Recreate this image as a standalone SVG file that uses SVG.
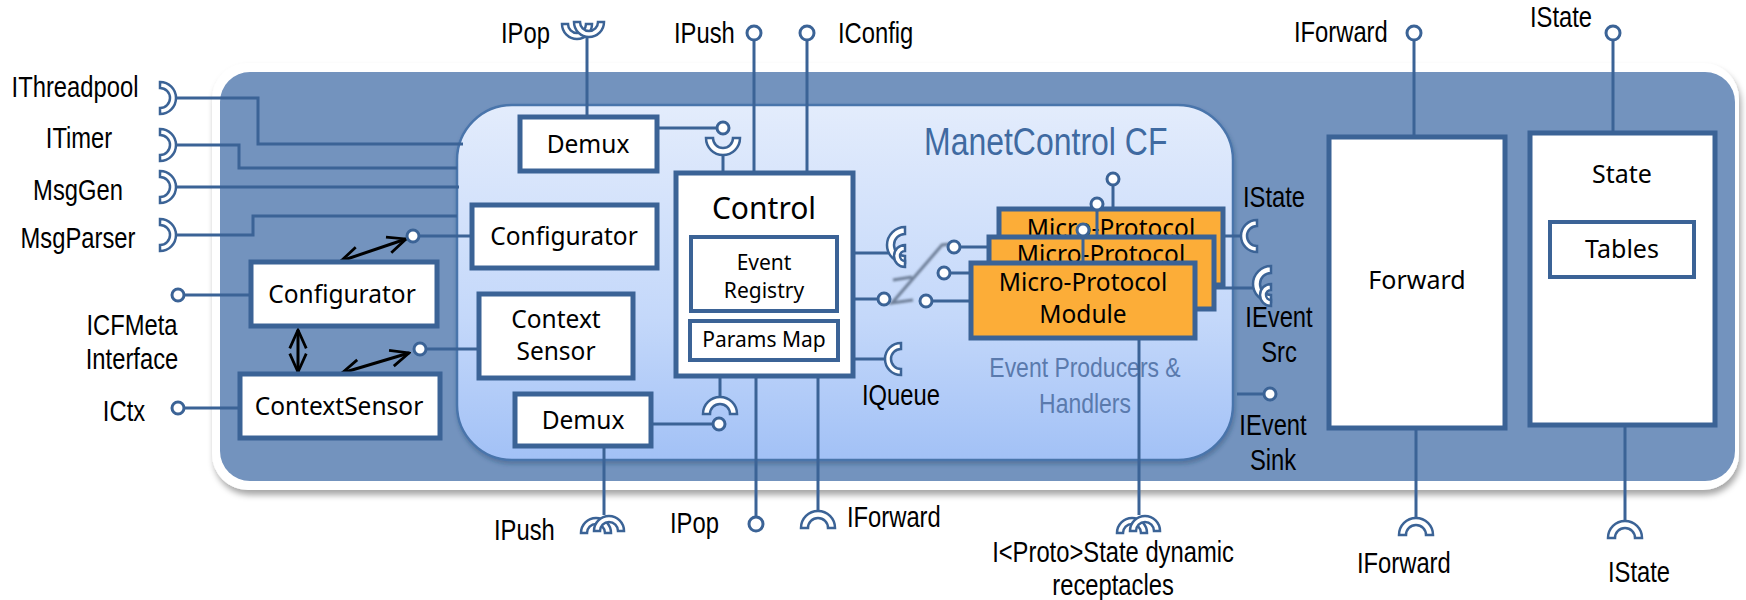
<svg xmlns="http://www.w3.org/2000/svg" width="1746" height="600" viewBox="0 0 1746 600">
<defs>
<linearGradient id="cfg" x1="0" y1="0" x2="0" y2="1">
<stop offset="0" stop-color="#e3ecfc"/>
<stop offset="0.6" stop-color="#c4d8fa"/>
<stop offset="1" stop-color="#a2c1f6"/>
</linearGradient>
<filter id="sh" x="-5%" y="-5%" width="110%" height="115%">
<feDropShadow dx="2" dy="5" stdDeviation="3" flood-color="#000" flood-opacity="0.35"/>
</filter>
<filter id="sh2" x="-5%" y="-5%" width="110%" height="115%">
<feDropShadow dx="1" dy="3" stdDeviation="2" flood-color="#203a60" flood-opacity="0.35"/>
</filter>
<filter id="blur"><feGaussianBlur stdDeviation="0.8"/></filter>
<marker id="ah" viewBox="0 0 12 12" refX="11" refY="6" markerWidth="22" markerHeight="22" markerUnits="userSpaceOnUse" orient="auto-start-reverse">
<path d="M1,1.5 L11,6 L1,10.5" fill="none" stroke="#000" stroke-width="1.5"/>
</marker>
<style>
.lbl{font-family:"Liberation Sans","Arial",sans-serif;font-size:29px;fill:#000}
.nt{font-family:"Noto Sans","DejaVu Sans",sans-serif;font-size:24.5px;fill:#000;text-anchor:middle}
.box{fill:#fff;stroke:#3b6396;stroke-width:5}
.mp{fill:#fcad38;stroke:#3b6396;stroke-width:5}
.ln{fill:none;stroke:#3b6396;stroke-width:3}
.port{fill:#fff;stroke:#3b6396;stroke-width:3}
.rc{fill:#fff;stroke:#3b6396;stroke-width:2.5}
.arr{stroke:#000;stroke-width:3;fill:none;marker-start:url(#ah);marker-end:url(#ah)}
.mid{text-anchor:middle}
.ep{fill:#5a7aad;font-size:28px}
</style>
</defs>

<g id="frame">
<rect x="212" y="63" width="1527" height="427" rx="36" fill="#fff" filter="url(#sh)"/>
<rect x="220" y="72" width="1515" height="409" rx="30" fill="#7393be"/>
</g>

<g id="manetcontrol">
<rect x="457" y="105" width="776" height="355" rx="55" fill="url(#cfg)" stroke="#4a74ab" stroke-width="2.5" filter="url(#sh2)"/>
<text class="lbl" transform="matrix(0.82 0 0 1 924 155)" style="font-size:39px;fill:#3f6aa1">ManetControl CF</text>
<text class="lbl mid ep" transform="matrix(0.82 0 0 1 1085 377)">Event Producers &amp;</text>
<text class="lbl mid ep" transform="matrix(0.82 0 0 1 1085 413)">Handlers</text>
</g>

<g id="connectors">
<path class="ln" d="M176,98 H258 V144 H463"/>
<path class="ln" d="M176,145 H239 V168 H457"/>
<path class="ln" d="M176,187 H459"/>
<path class="ln" d="M176,235 H253 V216 H457"/>
<path class="ln" d="M184,295 H251"/>
<path class="ln" d="M184,408 H240"/>
<path class="ln" d="M419,236 H472"/>
<path class="ln" d="M426,349 H479"/>
<path class="ln" d="M587,38 V117"/>
<path class="ln" d="M657,128 H717"/>
<path class="ln" d="M723,155 V173"/>
<path class="ln" d="M754,40 V173"/>
<path class="ln" d="M807,40 V173"/>
<path class="ln" d="M853,253 H888"/>
<path class="ln" d="M853,299 H878"/>
<path class="ln" d="M853,359 H886"/>
<path class="ln" d="M960,247 H999"/>
<path class="ln" d="M950,273 H989"/>
<path class="ln" d="M932,301 H971"/>
<path class="ln" d="M720,376 V397"/>
<path class="ln" d="M651,424 H713"/>
<path class="ln" d="M756,376 V517"/>
<path class="ln" d="M818,376 V511"/>
<path class="ln" d="M604,446 V515"/>
<path class="ln" d="M1139,338 V515"/>
<path class="ln" d="M1113,185 V209"/>
<path class="ln" d="M1223,236 H1243"/>
<path class="ln" d="M1214,288 H1256"/>
<path class="ln" d="M1237,394 H1264"/>
<path class="ln" d="M1414,40 V137"/>
<path class="ln" d="M1416,428 V518"/>
<path class="ln" d="M1613,40 V133"/>
<path class="ln" d="M1625,425 V521"/>
<path d="M893,280 L912,277 M950,244 L942,245 L892,303 L913,300" fill="none" stroke="#6e7f98" stroke-width="3" filter="url(#blur)"/>
<line class="arr" x1="341" y1="261" x2="406" y2="239"/>
<line class="arr" x1="342" y1="373" x2="409" y2="353"/>
<line class="arr" x1="298" y1="330" x2="298" y2="372"/>
</g>

<g id="ports">
<path class="rc" d="M160,82 A16,16 0 0 1 160,114 L160,108 A10,10 0 0 0 160,88 Z"/>
<path class="rc" d="M160,129 A16,16 0 0 1 160,161 L160,155 A10,10 0 0 0 160,135 Z"/>
<path class="rc" d="M160,171 A16,16 0 0 1 160,203 L160,197 A10,10 0 0 0 160,177 Z"/>
<path class="rc" d="M160,219 A16,16 0 0 1 160,251 L160,245 A10,10 0 0 0 160,225 Z"/>
<circle class="port" cx="178" cy="295" r="6"/>
<circle class="port" cx="178" cy="408" r="6"/>
<circle class="port" cx="413" cy="236" r="6"/>
<circle class="port" cx="420" cy="349" r="6"/>
<path class="rc" d="M562,24 A15,15 0 0 0 592,24 L586,24 A9,9 0 0 1 568,24 Z"/>
<path class="rc" d="M574,22 A15,15 0 0 0 604,22 L598,22 A9,9 0 0 1 580,22 Z"/>
<circle class="port" cx="723" cy="128" r="6"/>
<path class="rc" d="M706,138 A17,17 0 0 0 740,138 L733,138 A10,10 0 0 1 713,138 Z"/>
<circle class="port" cx="754" cy="33" r="7"/>
<circle class="port" cx="807" cy="33" r="7"/>
<path class="rc" d="M905,227 A18,18 0 0 0 905,263 L905,256 A11,11 0 0 1 905,234 Z"/>
<path class="rc" d="M905,245 A11,11 0 0 0 905,267 L905,261 A5,5 0 0 1 905,251 Z"/>
<circle class="port" cx="884" cy="299" r="6"/>
<path class="rc" d="M901,343 A16,16 0 0 0 901,375 L901,369 A10,10 0 0 1 901,349 Z"/>
<circle class="port" cx="954" cy="247" r="6"/>
<circle class="port" cx="944" cy="273" r="6"/>
<circle class="port" cx="926" cy="301" r="6"/>
<path class="rc" d="M703,414 A17,17 0 0 1 737,414 L730,414 A10,10 0 0 0 710,414 Z"/>
<circle class="port" cx="719" cy="424" r="6"/>
<circle class="port" cx="756" cy="524" r="7"/>
<path class="rc" d="M801,528 A17,17 0 0 1 835,528 L828,528 A10,10 0 0 0 808,528 Z"/>
<path class="rc" d="M581,533 A15,15 0 0 1 611,533 L605,533 A9,9 0 0 0 587,533 Z"/>
<path class="rc" d="M594,531 A15,15 0 0 1 624,531 L618,531 A9,9 0 0 0 600,531 Z"/>
<path class="rc" d="M1117,533 A15,15 0 0 1 1147,533 L1141,533 A9,9 0 0 0 1123,533 Z"/>
<path class="rc" d="M1130,531 A15,15 0 0 1 1160,531 L1154,531 A9,9 0 0 0 1136,531 Z"/>
<circle class="port" cx="1113" cy="179" r="6"/>
<path class="rc" d="M1257,220 A16,16 0 0 0 1257,252 L1257,246 A10,10 0 0 1 1257,226 Z"/>
<path class="rc" d="M1271,266 A18,18 0 0 0 1271,302 L1271,295 A11,11 0 0 1 1271,273 Z"/>
<path class="rc" d="M1271,284 A11,11 0 0 0 1271,306 L1271,300 A5,5 0 0 1 1271,290 Z"/>
<circle class="port" cx="1270" cy="394" r="6"/>
<circle class="port" cx="1414" cy="33" r="7"/>
<path class="rc" d="M1399,535 A17,17 0 0 1 1433,535 L1426,535 A10,10 0 0 0 1406,535 Z"/>
<circle class="port" cx="1613" cy="33" r="7"/>
<path class="rc" d="M1608,538 A17,17 0 0 1 1642,538 L1635,538 A10,10 0 0 0 1615,538 Z"/>
</g>

<g id="configurator-outer">
<rect class="box" x="251" y="262" width="186" height="64"/>
<text class="nt" x="342" y="303">Configurator</text>
</g>
<g id="contextsensor-outer">
<rect class="box" x="240" y="374" width="200" height="64"/>
<text class="nt" x="339" y="415">ContextSensor</text>
</g>
<g id="demux-top">
<rect class="box" x="520" y="117" width="137" height="54"/>
<text class="nt" x="588" y="153">Demux</text>
</g>
<g id="configurator-inner">
<rect class="box" x="472" y="205" width="185" height="63"/>
<text class="nt" x="564" y="245">Configurator</text>
</g>
<g id="contextsensor-inner">
<rect class="box" x="479" y="294" width="154" height="84"/>
<text class="nt" x="556" y="328">Context</text>
<text class="nt" x="556" y="360">Sensor</text>
</g>
<g id="demux-bottom">
<rect class="box" x="515" y="394" width="136" height="52"/>
<text class="nt" x="583" y="429">Demux</text>
</g>
<g id="control">
<rect class="box" x="676" y="173" width="177" height="203"/>
<text class="nt" x="764" y="219" style="font-size:30px">Control</text>
<rect class="box" x="691" y="237" width="146" height="74" style="stroke-width:4"/>
<text class="nt" x="764" y="270" style="font-size:21px">Event</text>
<text class="nt" x="764" y="298" style="font-size:21px">Registry</text>
<rect class="box" x="690" y="321" width="148" height="39" style="stroke-width:4"/>
<text class="nt" x="764" y="347" style="font-size:21px">Params Map</text>
</g>
<g id="mp1">
<rect class="mp" x="999" y="209" width="224" height="76"/>
<text class="nt" x="1111" y="237">Micro-Protocol</text>
<circle class="port" cx="1097" cy="204" r="6"/>
</g>
<g id="mp2">
<rect class="mp" x="989" y="237" width="225" height="72"/>
<text class="nt" x="1101" y="263">Micro-Protocol</text>
<line class="ln" x1="1097" y1="210" x2="1097" y2="237"/>
<circle class="port" cx="1083" cy="230" r="6"/>
</g>
<g id="mp3">
<rect class="mp" x="971" y="263" width="224" height="75"/>
<text class="nt" x="1083" y="291">Micro-Protocol</text>
<text class="nt" x="1083" y="323">Module</text>
<line class="ln" x1="1083" y1="236" x2="1083" y2="263"/>
</g>
<g id="forward">
<rect class="box" x="1329" y="137" width="176" height="291"/>
<text class="nt" x="1417" y="289" style="font-size:25px">Forward</text>
</g>
<g id="state">
<rect class="box" x="1530" y="133" width="185" height="292"/>
<text class="nt" x="1622" y="183" style="font-size:25px">State</text>
<rect class="box" x="1550" y="222" width="144" height="55" style="stroke-width:4"/>
<text class="nt" x="1622" y="258" style="font-size:25px">Tables</text>
</g>

<g id="labels">
<text class="lbl mid" transform="matrix(0.82 0 0 1 75 97)">IThreadpool</text>
<text class="lbl mid" transform="matrix(0.82 0 0 1 79 148)">ITimer</text>
<text class="lbl mid" transform="matrix(0.82 0 0 1 78 200)">MsgGen</text>
<text class="lbl mid" transform="matrix(0.82 0 0 1 78 248)">MsgParser</text>
<text class="lbl mid" transform="matrix(0.82 0 0 1 132 335)">ICFMeta</text>
<text class="lbl mid" transform="matrix(0.82 0 0 1 132 369)">Interface</text>
<text class="lbl mid" transform="matrix(0.82 0 0 1 124 421)">ICtx</text>
<text class="lbl" transform="matrix(0.82 0 0 1 501 43)">IPop</text>
<text class="lbl" transform="matrix(0.82 0 0 1 674 43)">IPush</text>
<text class="lbl" transform="matrix(0.82 0 0 1 838 43)">IConfig</text>
<text class="lbl" transform="matrix(0.82 0 0 1 1294 42)">IForward</text>
<text class="lbl" transform="matrix(0.82 0 0 1 1530 27)">IState</text>
<text class="lbl" transform="matrix(0.82 0 0 1 1243 207)">IState</text>
<text class="lbl mid" transform="matrix(0.82 0 0 1 1279 327)">IEvent</text>
<text class="lbl mid" transform="matrix(0.82 0 0 1 1279 362)">Src</text>
<text class="lbl mid" transform="matrix(0.82 0 0 1 1273 435)">IEvent</text>
<text class="lbl mid" transform="matrix(0.82 0 0 1 1273 470)">Sink</text>
<text class="lbl" transform="matrix(0.82 0 0 1 862 405)">IQueue</text>
<text class="lbl" transform="matrix(0.82 0 0 1 494 540)">IPush</text>
<text class="lbl" transform="matrix(0.82 0 0 1 670 533)">IPop</text>
<text class="lbl" transform="matrix(0.82 0 0 1 847 527)">IForward</text>
<text class="lbl mid" transform="matrix(0.82 0 0 1 1113 562)">I&lt;Proto&gt;State dynamic</text>
<text class="lbl mid" transform="matrix(0.82 0 0 1 1113 595)">receptacles</text>
<text class="lbl" transform="matrix(0.82 0 0 1 1357 573)">IForward</text>
<text class="lbl" transform="matrix(0.82 0 0 1 1608 582)">IState</text>
</g>
</svg>
